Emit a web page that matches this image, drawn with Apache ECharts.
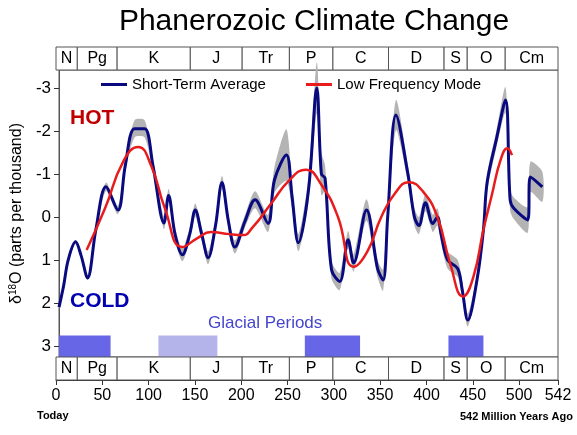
<!DOCTYPE html>
<html>
<head>
  <meta charset="utf-8">
  <title>Phanerozoic Climate Change</title>
  <script src="https://cdn.jsdelivr.net/npm/echarts@6/dist/echarts.min.js"></script>
</head>
<body style="margin:0">
  <div id="main" style="width:577px;height:435px;"></div>
  <script type="text/javascript">
    // Short-term average (Myr ago, d18O) and half width of the grey band
    var years = [0, 5, 10, 18, 24, 31, 40, 51, 64, 72, 82, 93, 102, 114, 119, 126, 134, 142, 148, 155, 162, 170, 177, 184, 191, 202, 213, 227, 234, 247, 253, 260, 271, 280, 285, 289, 296, 305, 314, 320, 334, 346, 352, 357, 366, 379, 386, 391, 398, 406, 411, 415, 422, 433, 438, 444, 454, 461, 465, 475, 485, 490, 494, 509, 512, 525]
    var avg = [2.1, 1.6, 1.0, 0.58, 0.9, 1.42, 0.3, -0.7, -0.16, -1.2, -2.05, -2.05, -1.2, 0.14, -0.5, 0.4, 0.88, 0.4, -0.16, 0.4, 0.95, 0.2, -0.8, 0.1, 0.7, 0.1, -0.4, 0.15, -0.86, -1.44, -0.5, 0.6, -0.63, -3.0, -1.0, -0.9, 1.23, 1.5, 0.53, 1.07, -0.16, 1.2, 1.47, 0.0, -2.37, -1.0, 0.0, 0.2, -0.33, 0.15, 0.0, 0.4, 1.0, 1.2, 1.7, 2.4, 1.47, 0.3, -0.8, -1.8, -2.72, -0.4, -0.2, 0.07, -0.93, -0.7]
    var halfBand = [0.05, 0.05, 0.05, 0.05, 0.05, 0.05, 0.08, 0.1, 0.1, 0.12, 0.2, 0.2, 0.15, 0.15, 0.15, 0.15, 0.15, 0.15, 0.15, 0.15, 0.15, 0.15, 0.15, 0.15, 0.15, 0.15, 0.2, 0.2, 0.3, 0.6, 0.3, 0.2, 0.3, 0.6, 0.5, 0.3, 0.2, 0.2, 0.2, 0.2, 0.25, 0.2, 0.25, 0.25, 0.35, 0.2, 0.2, 0.2, 0.2, 0.2, 0.2, 0.2, 0.2, 0.2, 0.2, 0.15, 0.15, 0.15, 0.2, 0.2, 0.3, 0.25, 0.25, 0.3, 0.35, 0.35]

    // Low frequency mode
    var lfYears = [30, 50, 70, 86, 100, 115, 134, 150, 165, 185, 200, 210, 230, 250, 268, 285, 303, 320, 335, 350, 365, 380, 395, 411, 425, 439, 450, 461, 470, 480, 487, 492]
    var lfVals = [0.77, -0.2, -1.3, -1.63, -1.2, -0.2, 0.7, 0.5, 0.35, 0.4, 0.42, 0.25, -0.3, -0.85, -1.1, -0.75, 0.0, 1.16, 0.8, 0.0, -0.55, -0.81, -0.6, 0.0, 1.1, 1.85, 1.4, 0.3, -0.5, -1.35, -1.6, -1.44]

    // Geologic periods
    var periodNames = ['N', 'Pg', 'K', 'J', 'Tr', 'P', 'C', 'D', 'S', 'O', 'Cm']
    var periodStart = [0, 23, 66, 145, 201, 252, 299, 359, 419, 444, 485]
    var periodEnd = [23, 66, 145, 201, 252, 299, 359, 419, 444, 485, 542]

    // Glacial periods
    var glacialStart = [0, 108, 267, 423]
    var glacialEnd = [56, 172, 327, 461]
    var glacialLight = [false, true, false, false]

    var yTicks = [-3, -2, -1, 0, 1, 2, 3]
    var xTicks = [0, 50, 100, 150, 200, 250, 300, 350, 400, 450, 500, 542]

    var avgData = [], bandData = [], lfData = []
    for (var i = 0; i < years.length; i++) {
      avgData.push([years[i], avg[i]])
      bandData.push([years[i], avg[i] - halfBand[i], avg[i] + halfBand[i]])
    }
    for (var i = 0; i < lfYears.length; i++) lfData.push([lfYears[i], lfVals[i]])

    var periodAreas = []
    for (var i = 0; i < periodNames.length; i++) {
      periodAreas.push([{ xAxis: periodStart[i], yAxis: 0, name: periodNames[i] }, { xAxis: periodEnd[i], yAxis: 1 }])
    }
    var glacialAreas = []
    for (var i = 0; i < glacialStart.length; i++) {
      glacialAreas.push([{ xAxis: glacialStart[i], yAxis: 2.76, itemStyle: { color: glacialLight[i] ? '#b4b4ea' : '#6666e6' } },
        { xAxis: glacialEnd[i], yAxis: 3.26 }])
    }

    // grey uncertainty band drawn as one polygon
    function renderBand(params, api) {
      if (params.dataIndex !== 0) return
      var up = [], down = []
      for (var i = 0; i < bandData.length; i++) {
        up.push(api.coord([bandData[i][0], bandData[i][1]]))
        down.push(api.coord([bandData[i][0], bandData[i][2]]))
      }
      return {
        type: 'polygon',
        shape: { points: up.concat(down.reverse()), smooth: 0.25 },
        style: { fill: '#b4b4b4' },
        silent: true
      }
    }

    var font = 'Arial, "Liberation Sans", sans-serif'
    var bandLabel = { show: true, position: 'inside', color: '#000', fontSize: 16, fontFamily: font }
    var bandStyle = { color: '#fff', borderColor: '#555', borderWidth: 1 }

    var chart = echarts.init(document.getElementById('main'))
    chart.setOption({
      animation: false,
      textStyle: { fontFamily: font },
      title: {
        text: 'Phanerozoic Climate Change', left: 309, textAlign: 'center', top: 2,
        textStyle: { fontSize: 30, fontWeight: 'normal', color: '#000', fontFamily: font }
      },
      legend: {
        top: 72, left: 96, itemGap: 40, itemWidth: 26, itemHeight: 3,
        icon: 'rect',
        textStyle: { fontSize: 15, color: '#000', fontFamily: font },
        data: ['Short-Term Average', 'Low Frequency Mode']
      },
      grid: [
        { left: 56, top: 70, width: 502, height: 287, show: true, borderColor: '#555', borderWidth: 1 },
        { left: 56, top: 47, width: 502, height: 23 },
        { left: 56, top: 357, width: 502, height: 23 }
      ],
      xAxis: [
        { gridIndex: 0, type: 'value', min: 0, max: 542, show: false },
        { gridIndex: 1, type: 'value', min: 0, max: 542, show: false },
        {
          gridIndex: 2, type: 'value', min: 0, max: 542, position: 'bottom',
          axisLine: { show: true, lineStyle: { color: '#333' } },
          axisTick: { show: true, length: 5, customValues: xTicks, lineStyle: { color: '#333' } },
          axisLabel: { customValues: xTicks, fontSize: 16, color: '#000', margin: 8 },
          splitLine: { show: false }
        }
      ],
      yAxis: [
        {
          gridIndex: 0, type: 'value', inverse: true, min: -3.42, max: 3.26,
          axisLine: { show: true, lineStyle: { color: '#555' } },
          axisTick: { show: true, length: 5, customValues: yTicks, lineStyle: { color: '#333' } },
          axisLabel: { customValues: yTicks, fontSize: 17, color: '#000', margin: 8 },
          splitLine: { show: false },
          name: '{a|δ}{s|18}{a|O (parts per thousand)}',
          nameLocation: 'middle', nameGap: 32, nameRotate: 90,
          nameTextStyle: { rich: { a: { fontSize: 16, color: '#000' }, s: { fontSize: 10, color: '#000', verticalAlign: 'bottom', padding: [0, 0, 8, 0] } } }
        },
        { gridIndex: 1, type: 'value', min: 0, max: 1, show: false },
        { gridIndex: 2, type: 'value', min: 0, max: 1, show: false }
      ],
      graphic: [
        { type: 'text', left: 70, top: 108, style: { text: 'HOT', fill: '#c00000', font: 'bold 21px ' + font } },
        { type: 'text', left: 70, top: 291, style: { text: 'COLD', fill: '#0000b0', font: 'bold 21px ' + font } },
        { type: 'text', left: 208, top: 315, style: { text: 'Glacial Periods', fill: '#4444cc', font: '17px ' + font } },
        { type: 'text', left: 37, top: 410, style: { text: 'Today', fill: '#000', font: 'bold 11px ' + font } },
        { type: 'text', right: 4, top: 411, style: { text: '542 Million Years Ago', fill: '#000', font: 'bold 11px ' + font } }
      ],
      series: [
        {
          type: 'line', xAxisIndex: 0, yAxisIndex: 0, data: [], silent: true,
          markArea: { silent: true, data: glacialAreas, itemStyle: { color: '#6666e6' } }
        },
        {
          type: 'custom', xAxisIndex: 0, yAxisIndex: 0, data: bandData, renderItem: renderBand, silent: true, z: 1
        },
        {
          name: 'Short-Term Average', type: 'line', xAxisIndex: 0, yAxisIndex: 0, data: avgData, smooth: 0.35,
          symbol: 'none', lineStyle: { color: '#0a0a80', width: 3 }, itemStyle: { color: '#0a0a80' }, z: 3
        },
        {
          name: 'Low Frequency Mode', type: 'line', xAxisIndex: 0, yAxisIndex: 0, data: lfData, smooth: 0.5,
          symbol: 'none', lineStyle: { color: '#e81c1c', width: 2.5 }, itemStyle: { color: '#e81c1c' }, z: 4
        },
        {
          type: 'line', xAxisIndex: 1, yAxisIndex: 1, data: [], silent: true,
          markArea: { silent: true, data: periodAreas, itemStyle: bandStyle, label: bandLabel }
        },
        {
          type: 'line', xAxisIndex: 2, yAxisIndex: 2, data: [], silent: true,
          markArea: { silent: true, data: periodAreas, itemStyle: bandStyle, label: bandLabel }
        }
      ]
    })
  </script>
</body>
</html>
